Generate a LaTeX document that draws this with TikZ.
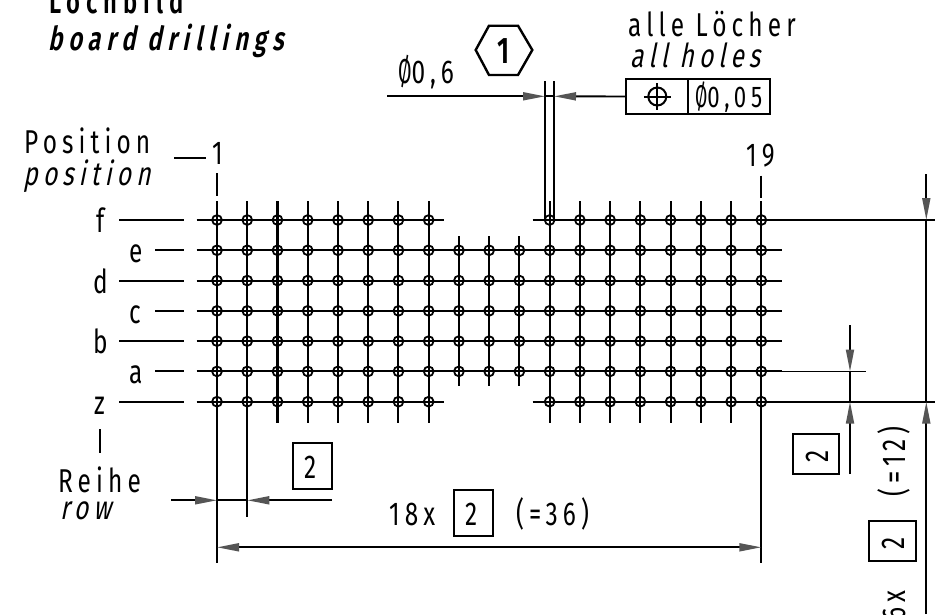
\documentclass[tikz,border=0pt]{standalone}
\usepackage{fontspec}
\usetikzlibrary{arrows.meta}
\setmainfont[FakeStretch=0.74,LetterSpace=15.5]{Fira Sans}
\newfontfamily\itfont[FakeStretch=0.74,LetterSpace=15.5,FakeSlant=0.2]{Fira Sans}
\newfontfamily\bffont[FakeStretch=0.72,LetterSpace=18]{Fira Sans SemiBold}
\newfontfamily\bifont[FakeStretch=0.72,LetterSpace=18,FakeSlant=0.2]{Fira Sans SemiBold}
\definecolor{tipgray}{RGB}{85,85,85}
\newcommand{\diam}{\scalebox{.8}[1.05]{Ø}}
\tikzset{
  x=1pt,y=-1pt,
  txt/.style={inner sep=0pt,anchor=base west,font=\fontsize{33}{33}\selectfont},
  ittxt/.style={txt,font=\fontsize{33}{33}\selectfont\itfont},
  boldtxt/.style={txt,font=\fontsize{33}{33}\selectfont\bffont},
  bolditxt/.style={txt,font=\fontsize{33}{33}\selectfont\bifont},
  gridline/.style={line width=2.1pt,black},
  thin line/.style={line width=1.9pt,black},
  boxline/.style={line width=2pt,black},
  hole/.style={line width=1.8pt,black},
  dimtip/.style={-{Triangle[length=22pt,width=8pt,color=tipgray]}},
}
\begin{document}
\begin{tikzpicture}
\useasboundingbox (0,0) rectangle (935,614);
\clip (0,0) rectangle (935,614);
% grid
\foreach \c in {0,...,7,11,12,...,18}{
  \draw[gridline] ({217+30.24*\c},201) -- ({217+30.24*\c},423);
}
\foreach \c in {8,9,10}{
  \draw[gridline] ({217+30.24*\c},236) -- ({217+30.24*\c},386);
}
\foreach \r in {1,...,5}{
  \draw[gridline] (196.5,{220+30.28*\r}) -- (782,{220+30.28*\r});
}
\foreach \r in {0,6}{
  \draw[gridline] (196.5,{220+30.28*\r}) -- (444,{220+30.28*\r});
  \draw[gridline] (532.5,{220+30.28*\r}) -- (782,{220+30.28*\r});
}
\foreach \c in {0,...,7,11,12,...,18}{
  \foreach \r in {0,...,6}{
    \draw[hole] ({217+30.24*\c},{220+30.28*\r}) circle[radius=4.9];
  }
}
\foreach \c in {8,9,10}{
  \foreach \r in {1,...,5}{
    \draw[hole] ({217+30.24*\c},{220+30.28*\r}) circle[radius=4.9];
  }
}
% row leaders
\foreach \r/\s in {0/119,1/155,2/119,3/155,4/119,5/155,6/119}{
  \draw[gridline] (\s,{220+30.28*\r}) -- (184,{220+30.28*\r});
}
\node[txt] (lf) at (96,232) {f};
\node[txt] (le) at (129,262) {e};
\node[txt] (ld) at (93,293) {d};
\node[txt] (lc) at (129,323) {c};
\node[txt] (lb) at (93,353) {b};
\node[txt] (la) at (129,383) {a};
\node[txt] (lz) at (94,414) {z};
\draw[gridline] (100,429) -- (100,453);
\node[txt] (reihe) at (58,492) {Reihe};
\node[ittxt] (rowt) at (60,519) {row};
% position
\node[txt] (pos) at (24,153) {Position};
\node[ittxt] (post) at (23,185) {position};
\draw[gridline] (174,158) -- (206,158);
\node[txt] (n1) at (212,164) {1};
\draw[gridline] (217,173) -- (217,196);
\node[txt] (n19) at (746,166) {19};
\draw[gridline] (761.3,175.5) -- (761.3,198);
% title
\node[boldtxt] (t1) at (49,13) {Lochbild};
\node[bolditxt] (t2) at (48,50) {board drillings};
% extension lines
\draw[gridline] (217,423) -- (217,563);
\draw[gridline] (761.3,423) -- (761.3,563);
\draw[thin line] (247.3,423) -- (247.3,516.7);
% pitch dimension x
\coordinate (a1) at (171,500.3);
\coordinate (a2) at (217,500.3);
\coordinate (a3) at (332,500.3);
\coordinate (a4) at (247.3,500.3);
\draw[thin line,dimtip] (a1) -- (a2);
\draw[thin line,dimtip] (a3) -- (a4);
\draw[thin line] (a2) -- (a4);
\node[draw,boxline,minimum width=39pt,minimum height=46pt,inner sep=0pt] (b1) at (312.5,466.3) {};
\node[txt] (b1t) at (304,478) {2};
% 18x dimension
\coordinate (d1) at (217,547.3);
\coordinate (d2) at (761.3,547.3);
\draw[thin line,{Triangle[length=22pt,width=8pt,color=tipgray]}-{Triangle[length=22pt,width=8pt,color=tipgray]}] (d1) -- (d2);
\node[txt] (x18) at (389,525) {18x};
\node[draw,boxline,minimum width=39pt,minimum height=46pt,inner sep=0pt] (b2) at (473.5,513) {};
\node[txt] (b2t) at (465,525) {2};
\node[txt] (eq36) at (516,525) {(=36)};
% right extensions
\draw[thin line] (782,220) -- (935,220);
\draw[thin line] (782,401.7) -- (935,401.7);
\draw[thin line] (782,371.5) -- (866,371.5);
% right dims
\coordinate (r1) at (926.3,174);
\coordinate (r2) at (926.3,220);
\coordinate (r3) at (926.3,614);
\coordinate (r4) at (926.3,401.7);
\draw[thin line,dimtip] (r1) -- (r2);
\draw[thin line,dimtip] (r3) -- (r4);
\draw[thin line] (r2) -- (r4);
\coordinate (s1) at (850,325);
\coordinate (s2) at (850,371.5);
\coordinate (s3) at (850,474);
\coordinate (s4) at (850,401.7);
\draw[thin line,dimtip] (s1) -- (s2);
\draw[thin line,dimtip] (s3) -- (s4);
\draw[thin line] (s2) -- (s4);
\node[draw,boxline,minimum width=46.6pt,minimum height=40pt,inner sep=0pt] (b3) at (816,454) {};
\node[txt,rotate=90] (b3t) at (828,463) {2};
\node[draw,boxline,minimum width=46.6pt,minimum height=40pt,inner sep=0pt] (b4) at (892.3,540.7) {};
\node[txt,rotate=90] (b4t) at (904,550) {2};
\node[txt,rotate=90] (eq12) at (905,497) {(=12)};
\node[txt,rotate=90] (x6) at (905,621) {6x};
% phi dimension
\draw[gridline] (545,81) -- (545,220);
\draw[gridline] (554,81) -- (554,220);
\node[draw,boxline,minimum width=61.7pt,minimum height=35pt,inner sep=0pt] (f1) at (656.85,96.5) {};
\node[draw,boxline,minimum width=81.8pt,minimum height=35pt,inner sep=0pt] (f2) at (728.6,96.5) {};
\coordinate (p0) at (387,96.3);
\coordinate (pl) at (545,96.3);
\coordinate (pr) at (554,96.3);
\draw[thin line,dimtip] (p0) -- (pl);
\draw[thin line,dimtip] (f1.west) -- (pr);
\draw[thin line] (pl) -- (pr);
\node[txt] (d06) at (398,83) {\diam0,6};
\node[txt,font=\fontsize{30}{30}\selectfont] (d005) at (695,107) {\diam0,05};
\draw[boxline] (657.3,96.5) circle[radius=9];
\draw[boxline] (643.8,96.5) -- (670.8,96.5);
\draw[boxline] (657.3,83) -- (657.3,110);
% hexagon
\draw[line width=2.4pt,line join=miter] (475.7,50) -- (489,25.7) -- (518,25.7) -- (532.3,50) -- (518,75) -- (489,75) -- cycle;
\node[boldtxt,anchor=base,font=\fontsize{37}{37}\selectfont\bffont] (hex1) at (504,63) {1};
% notes
\node[txt] (alle) at (628,36) {alle Löcher};
\node[ittxt] (allh) at (630,67) {all holes};
\end{tikzpicture}
\end{document}
